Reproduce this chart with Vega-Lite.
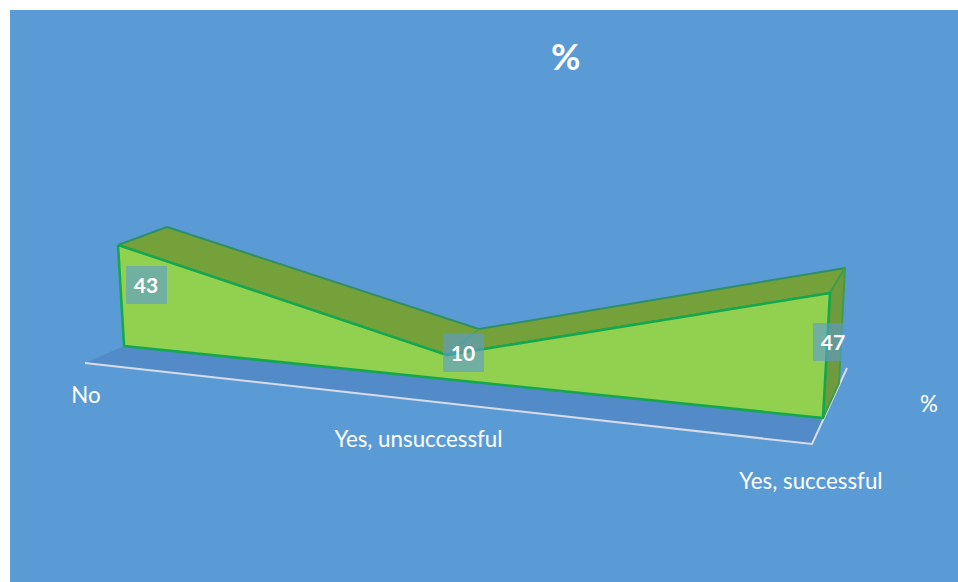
{"$schema":"https://vega.github.io/schema/vega-lite/v6.json","width":948,"height":572,"autosize":"none","padding":{"left":10,"top":10,"right":0,"bottom":0},"background":"white","config":{"view":{"fill":"#5B9BD5","stroke":null}},
"title":{"text":"%","color":"white","font":"Lato","fontWeight":"bold","fontSize":36,"anchor":"start","frame":"group","dx":541,"dy":68,"offset":0},
"datasets":{"floor":[{"o":1,"x":7.91,"y":38.29},{"o":2,"x":12.03,"y":41.26},{"o":3,"x":85.76,"y":28.67},{"o":4,"x":84.6,"y":24.13},{"o":5,"x":7.91,"y":38.29}],
"baseline":[{"o":1,"x":7.91,"y":38.29},{"o":2,"x":84.6,"y":24.13},{"o":3,"x":88.29,"y":37.41}],
"top":[{"o":1,"x":11.39,"y":58.92},{"o":2,"x":16.56,"y":62.06},{"o":3,"x":49.47,"y":44.23},{"o":4,"x":88.08,"y":54.9},{"o":5,"x":86.5,"y":50.52},{"o":6,"x":46.1,"y":39.69},{"o":7,"x":11.39,"y":58.92}],
"side":[{"o":1,"x":86.5,"y":50.52},{"o":2,"x":88.08,"y":54.9},{"o":3,"x":87.45,"y":34.79},{"o":4,"x":85.76,"y":28.67},{"o":5,"x":86.5,"y":50.52}],
"front":[{"o":1,"x":11.39,"y":58.92},{"o":2,"x":46.1,"y":39.69},{"o":3,"x":86.5,"y":50.52},{"o":4,"x":85.76,"y":28.67},{"o":5,"x":12.03,"y":41.26},{"o":6,"x":11.39,"y":58.92}],
"depth":[{"o":1,"x":46.1,"y":39.69},{"o":2,"x":49.47,"y":44.23}],
"values":[{"label":"43","x":14.35,"y":51.92,"x1":12.24,"x2":16.56,"y1":55.24,"y2":48.6},{"label":"10","x":47.78,"y":40.03,"x1":45.68,"x2":50,"y1":43.36,"y2":36.71},{"label":"47","x":86.81,"y":41.96,"x1":84.7,"x2":89.03,"y1":45.28,"y2":38.64}],
"labels":[{"label":"No","x":8.02,"y":32.69},{"label":"Yes, unsuccessful","x":43.09,"y":25},{"label":"Yes, successful","x":84.49,"y":17.66},{"label":"%","x":96.94,"y":31.12}]},
"encoding":{"x":{"field":"x","type":"quantitative","scale":{"domain":[0,100],"nice":false,"zero":false},"axis":null},"y":{"field":"y","type":"quantitative","scale":{"domain":[0,100],"nice":false,"zero":false},"axis":null}},
"layer":[
{"data":{"name":"floor"},"mark":{"type":"line","fill":"#528BC7","stroke":"#528BC7","strokeWidth":0},"encoding":{"order":{"field":"o","type":"quantitative"}}},
{"data":{"name":"baseline"},"mark":{"type":"line","stroke":"#D8DCEA","strokeWidth":2},"encoding":{"order":{"field":"o","type":"quantitative"}}},
{"data":{"name":"top"},"mark":{"type":"line","fill":"#75A13A","stroke":"#2F8F67","strokeWidth":2,"strokeJoin":"round"},"encoding":{"order":{"field":"o","type":"quantitative"}}},
{"data":{"name":"depth"},"mark":{"type":"line","stroke":"#3CA565","strokeWidth":1.5},"encoding":{"order":{"field":"o","type":"quantitative"}}},
{"data":{"name":"side"},"mark":{"type":"line","fill":"#6F9A3D","stroke":"#3E9F4B","strokeWidth":2,"strokeJoin":"round"},"encoding":{"order":{"field":"o","type":"quantitative"}}},
{"data":{"name":"front"},"mark":{"type":"line","fill":"#92D050","stroke":"#14A84E","strokeWidth":2.6,"strokeJoin":"round"},"encoding":{"order":{"field":"o","type":"quantitative"}}},
{"data":{"name":"values"},"mark":{"type":"rect","fill":"#5B9BD5","opacity":0.6},"encoding":{"x":{"field":"x1","type":"quantitative"},"x2":{"field":"x2"},"y":{"field":"y1","type":"quantitative"},"y2":{"field":"y2"}}},
{"data":{"name":"values"},"mark":{"type":"text","font":"Lato","fontWeight":"bold","fontSize":21,"color":"white","align":"center","baseline":"middle","dy":2},"encoding":{"text":{"field":"label"}}},
{"data":{"name":"labels"},"mark":{"type":"text","font":"Lato","fontSize":22.3,"color":"white","align":"center","baseline":"middle","dy":1},"encoding":{"text":{"field":"label"}}}
]}
